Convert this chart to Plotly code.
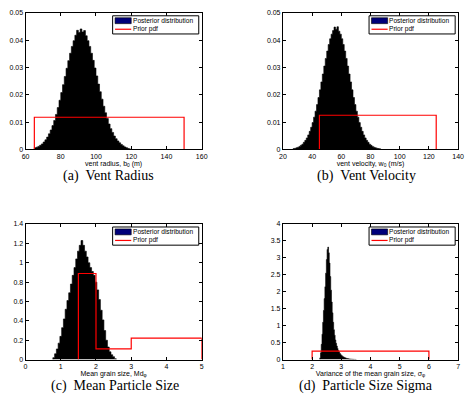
import plotly.graph_objects as go

# ---------------- data ----------------
# (a) vent radius posterior histogram
a_first_center = 65.5
a_bin_width = 1.0
a_density = [0.0006, 0.0008, 0.0011, 0.0015, 0.0020, 0.0027, 0.0035, 0.0045, 0.0057, 0.0071,
             0.0087, 0.0106, 0.0128, 0.0153, 0.0180, 0.0208, 0.0237, 0.0267, 0.0297, 0.0325,
             0.0352, 0.0377, 0.0398, 0.0418, 0.0436, 0.0428, 0.0441, 0.0430, 0.0435, 0.0416,
             0.0398, 0.0377, 0.0352, 0.0326, 0.0298, 0.0269, 0.0239, 0.0211, 0.0184, 0.0158,
             0.0134, 0.0113, 0.0093, 0.0076, 0.0062, 0.0049, 0.0039, 0.0031, 0.0024, 0.0018,
             0.0013, 0.0009, 0.0006, 0.0003, 0.0001]
a_prior_edges = [65, 150]
a_prior_dens = [0.01176]

# (b) vent velocity posterior histogram
b_first_center = 27.5
b_bin_width = 1.0
b_density = [0.0003, 0.0004, 0.0006, 0.0008, 0.0011, 0.0015, 0.0019, 0.0026, 0.0033, 0.0042,
             0.0053, 0.0066, 0.0081, 0.0098, 0.0118, 0.0140, 0.0164, 0.0190, 0.0218, 0.0247,
             0.0276, 0.0305, 0.0333, 0.0360, 0.0384, 0.0405, 0.0422, 0.0435, 0.0448, 0.0440,
             0.0449, 0.0433, 0.0422, 0.0405, 0.0384, 0.0360, 0.0333, 0.0305, 0.0276, 0.0247,
             0.0218, 0.0190, 0.0164, 0.0140, 0.0118, 0.0098, 0.0081, 0.0066, 0.0053, 0.0042,
             0.0033, 0.0026, 0.0019, 0.0015, 0.0011, 0.0008, 0.0006, 0.0004, 0.0003, 0.0002]
b_prior_edges = [45, 125]
b_prior_dens = [0.0125]

# (c) mean grain size posterior histogram
c_first_center = 0.80
c_bin_width = 0.05
c_density = [0.02, 0.06, 0.11, 0.17, 0.24, 0.33, 0.42, 0.52, 0.61, 0.69,
             0.78, 0.87, 0.95, 1.04, 1.12, 1.18, 1.23, 1.18, 1.12, 1.06,
             1.00, 0.95, 0.91, 0.87, 0.80, 0.72, 0.62, 0.51, 0.41, 0.30,
             0.20, 0.13, 0.08, 0.05, 0.03, 0.01]
c_prior_edges = [1.5, 2, 3, 5]
c_prior_dens = [0.889, 0.111, 0.222]

# (d) grain size sigma posterior histogram
d_first_center = 2.275
d_bin_width = 0.025
d_density = [0.05, 0.2, 0.45, 0.75, 1.1, 1.45, 1.8, 2.15, 2.55, 2.95,
             3.25, 3.32, 3.15, 2.85, 2.45, 2.05, 1.70, 1.38, 1.10, 0.88,
             0.72, 0.58, 0.48, 0.40, 0.33, 0.27, 0.23, 0.19, 0.16, 0.13,
             0.11, 0.095, 0.08, 0.068, 0.057, 0.048, 0.04, 0.034, 0.029, 0.024,
             0.02, 0.017, 0.014, 0.012, 0.01, 0.008, 0.007, 0.006, 0.005, 0.004]
d_prior_edges = [2, 6]
d_prior_dens = [0.25]

# axis ticks
a_xticks = [60, 80, 100, 120, 140, 160]
b_xticks = [20, 40, 60, 80, 100, 120, 140]
ab_yticks = [0, 0.01, 0.02, 0.03, 0.04, 0.05]
c_xticks = [0, 1, 2, 3, 4, 5]
c_yticks = [0, 0.2, 0.4, 0.6, 0.8, 1, 1.2, 1.4]
d_xticks = [1, 2, 3, 4, 5, 6, 7]
d_yticks = [0, 0.5, 1, 1.5, 2, 2.5, 3, 3.5, 4]

x_titles = ["vent radius, b<sub>0</sub> (m)", "vent velocity, w<sub>0</sub> (m/s)",
            "Mean grain size, Md<sub>φ</sub>", "Variance of the mean grain size, σ<sub>φ</sub>"]
captions = ["(a)\u00a0\u00a0Vent Radius", "(b)\u00a0\u00a0Vent Velocity",
            "(c)\u00a0\u00a0Mean Particle Size", "(d)\u00a0\u00a0Particle Size Sigma"]
legend_labels = ["Posterior distribution", "Prior pdf"]

# ---------------- layout geometry (pixels) ----------------
W, H = 469, 396
# (left, top, right, bottom) of each plot box in pixels
boxes = [(22, 9, 202, 148), (285, 9, 464, 148), (22, 224, 202, 362), (285, 224, 464, 362)]
caption_pos = [(107, 175), (370, 175), (113, 389), (370, 389)]


def step_path(edges, dens):
    xs, ys = [edges[0]], [0]
    for i, d in enumerate(dens):
        xs += [edges[i], edges[i + 1]]
        ys += [d, d]
    xs.append(edges[-1])
    ys.append(0)
    return xs, ys


fig = go.Figure()

panels = [
    (a_first_center, a_bin_width, a_density, a_prior_edges, a_prior_dens, [60, 160], [0, 0.05], a_xticks, ab_yticks),
    (b_first_center, b_bin_width, b_density, b_prior_edges, b_prior_dens, [20, 140], [0, 0.05], b_xticks, ab_yticks),
    (c_first_center, c_bin_width, c_density, c_prior_edges, c_prior_dens, [0, 5], [0, 1.4], c_xticks, c_yticks),
    (d_first_center, d_bin_width, d_density, d_prior_edges, d_prior_dens, [1, 7], [0, 4], d_xticks, d_yticks),
]

tick_font = dict(family="Liberation Sans, Arial, sans-serif", size=7, color="black")
legend_font = dict(family="Liberation Sans, Arial, sans-serif", size=6.6, color="black")

for i, (fc, bw, dens, pe, pd, xr, yr, xt, yt) in enumerate(panels):
    n = i + 1
    xa = "x" if n == 1 else f"x{n}"
    ya = "y" if n == 1 else f"y{n}"
    # histogram drawn as a filled stair outline over the bin edges
    edges = [fc - bw / 2 + k * bw for k in range(len(dens) + 1)]
    hx = [edges[0]] + edges
    hy = [0] + list(dens) + [0]
    fig.add_trace(go.Scatter(x=hx, y=hy, xaxis=xa, yaxis=ya, mode="lines",
                             line=dict(color="black", width=0.6, shape="hv"),
                             fill="tozeroy", fillcolor="black",
                             name=legend_labels[0], showlegend=False))
    px_, py_ = step_path(pe, pd)
    fig.add_trace(go.Scatter(x=px_, y=py_, mode="lines", xaxis=xa, yaxis=ya,
                             line=dict(color="red", width=1.2),
                             name=legend_labels[1], showlegend=False))

    L, T, R, B = boxes[i]
    axis_common = dict(showline=True, linecolor="black", linewidth=1, mirror="ticks",
                       ticks="inside", ticklen=3, tickcolor="black", tickwidth=1,
                       showgrid=False, zeroline=False, tickfont=tick_font)
    xkey = "xaxis" if n == 1 else f"xaxis{n}"
    ykey = "yaxis" if n == 1 else f"yaxis{n}"
    fig.update_layout({
        xkey: dict(axis_common, domain=[L / W, R / W], range=xr, tickvals=xt,
                   anchor=ya, title=dict(text=x_titles[i], font=tick_font, standoff=1)),
        ykey: dict(axis_common, domain=[1 - B / H, 1 - T / H], range=yr, tickvals=yt,
                   anchor=xa),
    })

    # legend box drawn inside each axes
    aw, ah = R - L, B - T
    xd = f"{xa} domain"
    yd = f"{ya} domain"

    def fx(p):
        return p / aw

    def fy(p):
        return 1 - p / ah

    fig.add_shape(type="rect", xref=xd, yref=yd, x0=fx(aw - 91), x1=fx(aw - 3),
                  y0=fy(21.5), y1=fy(3), line=dict(color="black", width=1), fillcolor="white")
    fig.add_shape(type="rect", xref=xd, yref=yd, x0=fx(aw - 88.5), x1=fx(aw - 72),
                  y0=fy(11), y1=fy(5), line=dict(color="black", width=0.6), fillcolor="#00007a")
    fig.add_shape(type="line", xref=xd, yref=yd, x0=fx(aw - 88.5), x1=fx(aw - 72),
                  y0=fy(16.7), y1=fy(16.7), line=dict(color="red", width=1.2))
    fig.add_annotation(xref=xd, yref=yd, x=fx(aw - 71.5), y=fy(8), text=legend_labels[0],
                       showarrow=False, xanchor="left", yanchor="middle", font=legend_font,
                       borderpad=0)
    fig.add_annotation(xref=xd, yref=yd, x=fx(aw - 71.5), y=fy(16.7), text=legend_labels[1],
                       showarrow=False, xanchor="left", yanchor="middle", font=legend_font,
                       borderpad=0)

    cx, cy = caption_pos[i]
    fig.add_annotation(xref="paper", yref="paper", x=cx / W, y=1 - cy / H, text=captions[i],
                       showarrow=False, xanchor="center", yanchor="middle", borderpad=0,
                       font=dict(family="Liberation Serif, Times New Roman, serif", size=14, color="black"))

fig.update_layout(width=W, height=H, margin=dict(l=0, r=0, t=0, b=0),
                  paper_bgcolor="white", plot_bgcolor="white", showlegend=False)

fig.write_html("out.html", config={"displayModeBar": False},
               post_script="document.body.style.margin='0';document.body.style.padding='0';")
